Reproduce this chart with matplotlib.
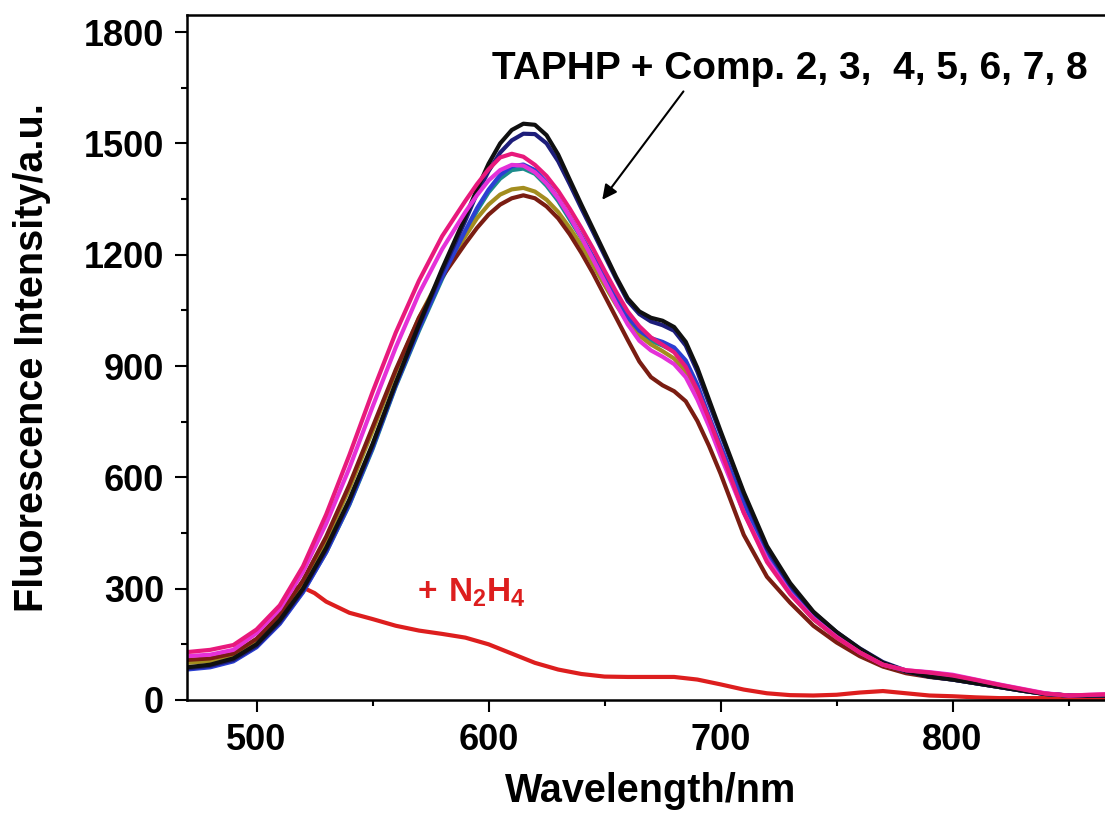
import numpy as np
import matplotlib
matplotlib.use("Agg")
import matplotlib.pyplot as plt
from matplotlib.ticker import MultipleLocator

plt.rcParams['font.family'] = ['Liberation Sans', 'DejaVu Sans']
plt.rcParams['font.weight'] = 'bold'
plt.rcParams['mathtext.fontset'] = 'custom'
plt.rcParams['mathtext.rm'] = 'Liberation Sans:bold'
plt.rcParams['mathtext.bf'] = 'Liberation Sans:bold'

# wavelength grid (nm), finer around the peak
wl = [470, 480, 490, 500, 510, 520, 530, 540, 550, 560, 570, 580,
      590, 595, 600, 605, 610, 615, 620, 625, 630, 635, 640, 645, 650,
      655, 660, 665, 670, 675, 680, 685, 690, 695, 700,
      710, 720, 730, 740, 750, 760, 770, 780, 790, 800, 810, 820, 830,
      840, 850, 860, 870]

# TAPHP + compounds (fluorescence intensity, a.u.)
black = [88, 95, 112, 150, 215, 300, 410, 540, 690, 855, 1012, 1162,
         1302, 1376, 1445, 1500, 1536, 1553, 1550, 1522, 1470, 1402, 1335, 1270, 1205,
         1140, 1082, 1047, 1030, 1022, 1005, 965, 895, 810, 725,
         560, 415, 315, 238, 183, 138, 100, 77, 63, 55, 45, 35, 25,
         16, 12, 12, 12]
navy = [85, 92, 108, 146, 210, 296, 405, 535, 685, 852, 1008, 1155,
        1292, 1365, 1425, 1475, 1508, 1526, 1525, 1500, 1452, 1390, 1325, 1262, 1198,
        1135, 1075, 1040, 1020, 1010, 995, 955, 885, 800, 718,
        555, 408, 310, 236, 183, 139, 102, 79, 64, 56, 46, 36, 26,
        17, 12, 12, 12]
blue = [82, 88, 104, 142, 205, 290, 398, 528, 680, 848, 1000, 1140,
        1265, 1325, 1375, 1415, 1438, 1443, 1428, 1395, 1352, 1302, 1250, 1195, 1140,
        1085, 1032, 995, 975, 965, 950, 915, 850, 765, 685,
        530, 398, 302, 230, 176, 134, 98, 77, 63, 55, 45, 35, 25,
        16, 12, 12, 12]
teal = [84, 90, 106, 144, 207, 292, 398, 526, 676, 845, 995, 1135,
        1260, 1318, 1368, 1405, 1428, 1432, 1418, 1386, 1345, 1295, 1245, 1190, 1135,
        1080, 1027, 990, 968, 955, 940, 905, 840, 758, 676,
        524, 394, 300, 228, 176, 134, 98, 77, 63, 55, 45, 35, 25,
        16, 12, 12, 12]
olive = [100, 105, 118, 158, 225, 315, 430, 570, 725, 885, 1030, 1150,
         1250, 1298, 1335, 1362, 1376, 1380, 1370, 1348, 1315, 1272, 1225, 1172, 1118,
         1065, 1017, 982, 958, 940, 920, 885, 822, 745, 665,
         508, 382, 288, 218, 168, 127, 94, 76, 64, 56, 46, 36, 26,
         17, 12, 12, 12]
brown = [108, 112, 125, 165, 230, 322, 440, 580, 735, 890, 1030, 1140,
         1230, 1272, 1308, 1335, 1352, 1360, 1352, 1330, 1298, 1255, 1205, 1150, 1090,
         1030, 970, 912, 870, 848, 832, 805, 752, 685, 610,
         445, 332, 262, 200, 155, 118, 90, 72, 62, 55, 45, 35, 25,
         16, 12, 12, 12]
magenta = [118, 122, 135, 180, 245, 345, 475, 625, 790, 950, 1095, 1215,
           1315, 1360, 1400, 1428, 1442, 1440, 1422, 1392, 1352, 1302, 1247, 1188, 1128,
           1068, 1012, 968, 942, 925, 905, 870, 810, 738, 658,
           505, 380, 288, 220, 170, 128, 95, 80, 75, 68, 55, 42, 30,
           18, 12, 14, 16]
crimson = [129, 135, 148, 190, 255, 360, 500, 660, 830, 990, 1130, 1250,
           1345, 1390, 1430, 1462, 1472, 1464, 1442, 1412, 1372, 1324, 1272, 1217, 1157,
           1100, 1047, 1007, 977, 957, 937, 898, 835, 758, 675,
           505, 372, 285, 218, 168, 128, 95, 80, 74, 66, 54, 41, 29,
           17, 12, 14, 16]

# + N2H4
wl_red = [515, 520, 525, 530, 540, 550, 560, 570, 580, 590, 600, 610, 620,
          630, 640, 650, 660, 670, 680, 690, 700, 710, 720, 730, 740, 750,
          760, 770, 780, 790, 800, 810, 820, 830, 840, 850, 860, 870]
red = [303, 303, 288, 265, 235, 218, 200, 187, 178, 168, 150, 125, 100,
       82, 70, 63, 62, 62, 62, 55, 42, 28, 18, 13, 12, 14,
       20, 24, 18, 12, 10, 7, 5, 5, 5, 5, 5, 5]

series = [
    (teal, '#1c8c8c'),
    (olive, '#a38d1f'),
    (brown, '#7a1d12'),
    (blue, '#2b3fd2'),
    (navy, '#1d1d7a'),
    (black, '#101010'),
    (magenta, '#e531d8'),
    (crimson, '#e8197c'),
]

fig = plt.figure(figsize=(11.05, 8.23), dpi=100)
ax = fig.add_axes([0.1692, 0.1495, 0.8398, 0.8323])

ax.plot(wl_red, red, color='#dd1e1e', lw=3, solid_capstyle='round')
for vals, col in series:
    ax.plot(wl, vals, color=col, lw=3, solid_capstyle='round',
            solid_joinstyle='round')

ax.set_xlim(470, 870)
ax.set_ylim(0, 1846)
ax.xaxis.set_major_locator(MultipleLocator(100))
ax.xaxis.set_minor_locator(MultipleLocator(50))
ax.yaxis.set_major_locator(MultipleLocator(300))
ax.yaxis.set_minor_locator(MultipleLocator(150))
ax.tick_params(which='major', direction='out', length=8.5, width=1.5,
               labelsize=26, pad=8)
ax.tick_params(which='minor', direction='out', length=4, width=1.5)
for lab in ax.get_xticklabels() + ax.get_yticklabels():
    lab.set_fontweight('bold')
for sp in ax.spines.values():
    sp.set_linewidth(1.8)

ax.set_xlabel('Wavelength/nm', fontsize=28.5, fontweight='bold')
ax.xaxis.set_label_coords(0.5, -0.105)
ax.set_ylabel('Fluorescence Intensity/a.u.', fontsize=28.5, fontweight='bold',
              va='center')
ax.yaxis.set_label_coords(-0.167, 0.5)

ax.text(601.5, 1674, 'TAPHP + Comp. 2, 3,  4, 5, 6, 7, 8', fontsize=28,
        fontweight='bold', ha='left', va='baseline')
ax.annotate('', xy=(649, 1348), xytext=(684, 1640),
            arrowprops=dict(arrowstyle='-|>', color='black', lw=1.5,
                            mutation_scale=22, shrinkA=0, shrinkB=0))
ax.text(569, 264, r'$\mathbf{+\ N_2H_4}$', fontsize=24, color='#dd1e1e',
        ha='left', va='baseline')

fig.savefig('out.png', dpi=100)
